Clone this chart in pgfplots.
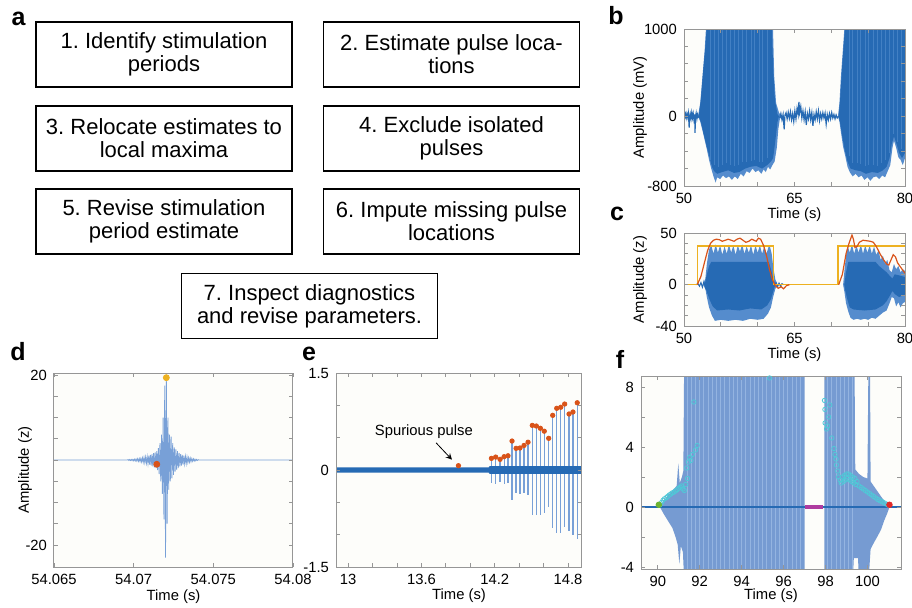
\documentclass[border=0pt]{standalone}
\usepackage{fontspec}
\setmainfont{Liberation Sans}
\setsansfont{Liberation Sans}
\usepackage{pgfplots}
\pgfplotsset{compat=1.18}
\frenchspacing

\definecolor{framec}{RGB}{150,150,150}
\definecolor{bgc}{RGB}{253,253,250}
\definecolor{mblue}{RGB}{38,106,180}
\definecolor{lblue}{RGB}{85,140,205}
\definecolor{stblue}{RGB}{66,128,196}
\definecolor{sblue}{RGB}{120,160,215}
\definecolor{fblue}{RGB}{118,155,210}
\definecolor{flight}{RGB}{148,180,225}
\definecolor{morange}{RGB}{237,177,32}
\definecolor{mred}{RGB}{217,83,25}
\definecolor{fred}{RGB}{225,40,40}
\definecolor{mpurple}{RGB}{175,60,160}
\definecolor{mcyan}{RGB}{80,200,215}
\definecolor{mgreen}{RGB}{110,180,50}

\pgfplotsset{
  panel/.style={
    scale only axis, axis on top, clip=true,
    axis background/.style={fill=bgc},
    axis line style={framec, line width=0.5pt},
    every tick/.style={framec, line width=0.4pt},
    major tick length=2pt, tick align=inside,
    ticklabel style={font=\fontsize{7.4}{8}\selectfont, text=black},
    label style={font=\fontsize{7.4}{8}\selectfont},
    xlabel={Time (s)},
  },
  xlab/.style={xlabel style={at={(axis description cs:0.5,#1)}, anchor=center}},
  ylab/.style={ylabel style={at={(axis description cs:#1,0.5)}, anchor=center}},
}
\tikzset{
  lett/.style={font=\fontsize{12.5}{14}\selectfont\bfseries},
  stepbox/.style={draw=black, line width=0.8pt, minimum width=128pt,
    minimum height=32.5pt, align=center, inner sep=0pt,
    font=\fontsize{11}{11.5}\selectfont},
}

\begin{document}
\begin{tikzpicture}
\useasboundingbox (0,0) rectangle (456pt,303.5pt);

% ---- panel a: workflow boxes
\node[lett] at (9.25pt,294pt) {a};
\node[stepbox] at (82pt,276.25pt) {1. Identify stimulation\\periods};
\node[stepbox] at (225.75pt,276.25pt) {2. Estimate pulse loca-\\tions};
\node[stepbox] at (82pt,234.25pt) {3. Relocate estimates to\\local maxima};
\node[stepbox] at (225.75pt,234.25pt) {4. Exclude isolated\\pulses};
\node[stepbox] at (82pt,192.75pt) {5. Revise stimulation\\period estimate};
\node[stepbox] at (225.75pt,192.75pt) {6. Impute missing pulse\\locations};
\node[stepbox] at (154.75pt,150.5pt) {7. Inspect diagnostics\\and revise parameters.};

% ---- panel b: raw recording
\node[lett] at (308pt,295.5pt) {b};
\begin{axis}[panel, at={(342pt,210.5pt)}, anchor=south west,
  width=110.5pt, height=78.5pt,
  xmin=50, xmax=80, ymin=-800, ymax=1000,
  xtick={50,55,...,80}, xticklabels={50,,,65,,,80},
  ytick={-800,-600,...,1000}, yticklabels={-800,,,,0,,,,,1000},
  ylabel={Amplitude (mV)}, xlab=-0.185, ylab=-0.199]
% burst 1
\addplot[fill=lblue, draw=none] coordinates {(51.9,0)(52.2,150)(52.5,450)(52.8,750)(53.05,1100)(62.05,1100)(62.25,450)(62.5,150)(62.9,40)(63.2,0)(63.0,-40)(62.8,-150)(62.6,-360)(62.3,-520)(62.0,-560)(61.7,-610)(61.4,-580)(61.1,-640)(60.8,-610)(60.5,-660)(60.1,-620)(59.7,-640)(59.3,-600)(58.9,-650)(58.5,-630)(58.1,-690)(57.7,-660)(57.3,-720)(56.9,-690)(56.5,-730)(56.1,-690)(55.7,-710)(55.3,-680)(54.9,-720)(54.5,-700)(54.3,-760)(54.0,-690)(53.7,-600)(53.4,-500)(53.1,-380)(52.8,-270)(52.5,-160)(52.2,-60)} --cycle;
\addplot[fill=mblue, draw=none] coordinates {(52.0,0)(52.3,200)(52.6,520)(52.9,800)(53.15,1100)(61.9,1100)(62.1,560)(62.35,180)(62.7,20)(62.9,0)(62.7,-60)(62.4,-280)(62.1,-480)(61.8,-520)(61.3,-560)(60.6,-600)(59.8,-570)(59.0,-580)(58.3,-600)(57.5,-640)(56.8,-650)(56.0,-620)(55.2,-640)(54.5,-660)(54.1,-630)(53.8,-580)(53.4,-450)(53.0,-320)(52.6,-180)(52.3,-70)} --cycle;
% burst 2
\addplot[fill=lblue, draw=none] coordinates {(70.9,0)(71.1,150)(71.3,450)(71.6,800)(71.85,1100)(81,1100)(81,-500)(80,-480)(79.7,-560)(79.4,-500)(79.1,-470)(78.8,-360)(78.5,-280)(78.3,-360)(78.0,-560)(77.7,-620)(77.3,-700)(76.9,-680)(76.5,-720)(76.1,-690)(75.7,-700)(75.3,-740)(74.9,-700)(74.5,-730)(74.1,-680)(73.7,-700)(73.3,-660)(72.9,-690)(72.5,-640)(72.2,-580)(71.9,-460)(71.6,-350)(71.3,-180)(71.1,-60)} --cycle;
\addplot[fill=mblue, draw=none] coordinates {(71.0,0)(71.2,200)(71.45,550)(71.75,900)(71.95,1100)(81,1100)(81,-420)(80,-420)(79.6,-480)(79.2,-420)(78.9,-330)(78.5,-230)(78.2,-320)(77.9,-480)(77.5,-580)(77.0,-620)(76.3,-650)(75.5,-640)(74.7,-660)(74.0,-630)(73.3,-620)(72.6,-600)(72.2,-520)(71.8,-380)(71.5,-240)(71.2,-80)} --cycle;
% lighter streaks
\addplot[ycomb, stblue, line width=0.5pt] coordinates {(53.6,1100)(54.1,1100)(54.7,1100)(55.2,1100)(55.8,1100)(56.3,1100)(56.9,1100)(57.4,1100)(58.0,1100)(58.5,1100)(59.1,1100)(59.6,1100)(60.2,1100)(60.7,1100)(61.3,1100)(72.4,1100)(72.9,1100)(73.5,1100)(74.0,1100)(74.6,1100)(75.1,1100)(75.7,1100)(76.2,1100)(76.8,1100)(77.3,1100)(77.9,1100)(78.4,1100)(79.0,1100)(79.5,1100)};
\addplot[ycomb, stblue, line width=0.5pt] coordinates {(53.6,-500)(54.1,-560)(54.7,-580)(55.2,-560)(55.8,-540)(56.3,-560)(56.9,-570)(57.4,-560)(58.0,-530)(58.5,-520)(59.1,-510)(59.6,-500)(60.2,-520)(60.7,-520)(61.3,-480)(72.4,-460)(72.9,-540)(73.5,-540)(74.0,-550)(74.6,-570)(75.1,-560)(75.7,-560)(76.2,-570)(76.8,-540)(77.3,-500)(77.9,-420)(78.4,-200)(79.0,-300)(79.5,-380)};
% baseline noise
\addplot[mblue, line width=0.6pt] coordinates {(50,10)(50.1,-15)(50.2,25)(50.3,-20)(50.4,30)(50.5,-10)(50.6,35)(50.7,-130)(50.75,-20)(50.85,25)(50.95,-30)(51.05,40)(51.15,-20)(51.25,30)(51.35,-40)(51.45,20)(51.5,-190)(51.55,-10)(51.65,35)(51.75,-30)(51.85,20)(51.95,-10)(52.1,0)};
\addplot[mblue, line width=0.6pt] coordinates {(63.0,-20)(63.15,30)(63.3,-40)(63.45,20)(63.6,-150)(63.7,10)(63.85,40)(64.0,-30)(64.15,45)(64.3,-25)(64.45,50)(64.6,-40)(64.75,30)(64.9,-60)(65.05,60)(65.2,-30)(65.35,90)(65.5,20)(65.6,165)(65.7,40)(65.85,110)(66.0,-20)(66.15,60)(66.3,-40)(66.45,50)(66.6,-100)(66.75,30)(66.9,-30)(67.05,60)(67.2,-40)(67.35,40)(67.5,-110)(67.65,20)(67.8,-40)(67.95,50)(68.1,-30)(68.25,60)(68.4,-50)(68.55,30)(68.7,-30)(68.85,40)(69.0,-20)(69.15,35)(69.3,-90)(69.45,20)(69.6,-40)(69.75,30)(69.9,-30)(70.05,40)(70.2,-20)(70.35,20)(70.5,-30)(70.65,15)(70.8,-20)(71.0,0)};
\end{axis}

% ---- panel c: z-scored signal, envelope and stimulation periods
\node[lett] at (308.5pt,196.5pt) {c};
\begin{axis}[panel, at={(342pt,140.5pt)}, anchor=south west,
  width=110.5pt, height=46.5pt,
  xmin=50, xmax=80, ymin=-40, ymax=50,
  xtick={50,55,...,80}, xticklabels={50,,,65,,,80},
  ytick={-40,-30,...,50}, yticklabels={-40,,,,0,,,,,50},
  ylabel={Amplitude (z)}, xlab=-0.312, ylab=-0.199]
\addplot[fill=lblue, draw=none] coordinates {(52.6,0)(52.9,6)(53.1,20)(53.4,34)(53.7,38)(54.0,30)(54.3,39)(54.6,31)(54.9,38)(55.2,29)(55.5,37)(55.8,30)(56.1,39)(56.4,31)(56.7,38)(57.0,29)(57.3,38)(57.6,32)(57.9,39)(58.2,30)(58.5,37)(58.8,31)(59.1,38)(59.4,29)(59.7,38)(60.0,31)(60.3,38)(60.6,30)(60.9,37)(61.2,30)(61.5,37)(61.7,36)(61.9,30)(62.1,18)(62.4,5)(62.7,0)(62.4,-4)(62.1,-12)(61.8,-22)(61.4,-28)(60.8,-33)(60.0,-34)(59.0,-33)(58.0,-35)(57.0,-34)(56.0,-35)(55.0,-34)(54.2,-35)(53.8,-30)(53.4,-22)(53.1,-12)(52.9,-4)} --cycle;
\addplot[fill=mblue, draw=none] coordinates {(52.8,0)(53.1,10)(53.4,18)(53.7,22)(61.5,22)(61.8,15)(62.1,6)(62.4,0)(62.1,-7)(61.8,-14)(61.3,-20)(60.5,-24)(59.0,-23)(57.5,-25)(56.0,-24)(54.5,-25)(53.9,-21)(53.5,-15)(53.1,-7)} --cycle;
\addplot[fill=lblue, draw=none] coordinates {(71.6,0)(71.8,15)(72.0,28)(72.2,38)(72.5,31)(72.8,39)(73.1,30)(73.4,38)(73.7,31)(74.0,39)(74.3,30)(74.6,38)(74.9,31)(75.2,38)(75.5,30)(75.8,37)(76.1,29)(76.4,33)(76.7,24)(77.0,28)(77.3,20)(77.6,24)(77.9,14)(78.2,12)(78.5,20)(78.8,15)(79.1,18)(79.4,12)(79.7,15)(80.2,12)(80.2,-16)(79.7,-18)(79.4,-22)(79.1,-17)(78.8,-21)(78.5,-13)(78.2,-12)(77.9,-18)(77.5,-25)(77.0,-27)(76.5,-30)(76.0,-33)(75.5,-32)(75.0,-34)(74.5,-33)(74.0,-34)(73.5,-33)(73.0,-34)(72.6,-32)(72.3,-26)(72.0,-18)(71.8,-8)} --cycle;
\addplot[fill=mblue, draw=none] coordinates {(71.75,0)(72.0,12)(72.3,22)(76.0,22)(76.5,18)(77.0,15)(77.5,12)(78.0,8)(78.3,6)(78.6,10)(79.2,9)(80.2,7)(80.2,-9)(79.2,-12)(78.6,-9)(78.3,-6)(78.0,-10)(77.5,-16)(77.0,-20)(76.0,-24)(74.5,-25)(73.0,-24)(72.5,-22)(72.2,-15)(71.9,-6)} --cycle;
\addplot[mblue, line width=0.5pt] coordinates {(51.6,0)(51.9,1)(52.1,-1.5)(52.3,2)(52.5,-2.5)(52.7,3)(52.9,-3)(53.0,0)};
\addplot[mblue, line width=0.5pt] coordinates {(62.3,0)(62.5,2)(62.7,-2)(62.9,1.5)(63.1,-1.5)(63.3,1)(63.5,0)};
\addplot[morange, line width=0.6pt] coordinates {(50,0)(51.8,0)(51.8,37.5)(62.1,37.5)(62.1,0)(70.9,0)(70.9,37.5)(80,37.5)};
\addplot[mred, line width=0.6pt] coordinates {(51.8,0)(52.3,8)(52.8,22)(53.2,33)(53.6,40)(54.0,43)(54.4,44)(54.8,43.5)(55.2,42)(55.6,43)(56.0,44)(56.4,43)(56.8,42)(57.2,44)(57.6,45)(58.0,43)(58.4,41)(58.8,42)(59.2,44)(59.5,43)(59.8,42)(60.1,45)(60.4,44)(60.8,38)(61.2,28)(61.6,15)(62.0,5)(62.4,-1)(62.8,-3.5)(63.2,-2)(63.5,-4)(63.9,-1)(64.3,0)};
\addplot[mred, line width=0.6pt] coordinates {(71.0,0)(71.5,10)(72.0,30)(72.4,40)(72.8,48)(73.0,44)(73.2,36)(73.5,37)(73.8,41)(74.3,43)(74.8,42.5)(75.3,42)(75.7,41)(76.1,37)(76.6,30)(77.1,24)(77.5,20)(77.8,19)(78.1,24)(78.4,29)(78.7,27)(79.0,21)(79.5,16)(80,11)};
\end{axis}

% ---- panel d: one pulse (x = time after 54.065 s, in ms)
\node[lett] at (9pt,127.5pt) {d};
\begin{axis}[panel, at={(27pt,20pt)}, anchor=south west,
  width=119.5pt, height=97pt,
  xmin=0, xmax=15, ymin=-25.2, ymax=20.5,
  xtick={0,5,10,15}, xticklabels={54.065,54.07,54.075,54.08},
  ytick={-20,-15,...,20}, yticklabels={-20,,,,,,,,20},
  ylabel={Amplitude (z)}, xlab=-0.155, ylab=-0.121]
\addplot[sblue, line width=0.4pt] coordinates {(0,0)(4.6,0)(4.65,0.1)(4.7,-0.1)(4.75,0.12)(4.8,-0.12)(4.85,0.14)(4.9,-0.14)(4.95,0.16)(5.0,-0.18)(5.05,0.2)(5.10,-0.2)(5.15,0.25)(5.20,-0.25)(5.25,0.3)(5.30,-0.3)(5.35,0.35)(5.40,-0.35)(5.45,0.4)(5.50,-0.45)(5.55,0.5)(5.60,-0.55)(5.65,0.6)(5.70,-0.65)(5.75,0.7)(5.80,-0.75)(5.85,0.8)(5.90,-0.9)(5.95,1.0)(6.00,-1.1)(6.05,1.2)(6.10,-1.3)(6.15,1.4)(6.20,-1.5)(6.25,1.6)(6.30,-1.7)(6.35,1.8)(6.40,-1.9)(6.45,2.1)(6.50,-2.4)(6.55,2.8)(6.60,-3.3)(6.65,4.0)(6.70,-5.0)(6.75,6.0)(6.80,-8.0)(6.85,10.0)(6.90,-14.0)(6.95,17.5)(7.00,-23.0)(7.05,19.4)(7.10,-15.0)(7.15,10.0)(7.20,-7.0)(7.25,6.0)(7.30,-5.0)(7.35,5.5)(7.40,-4.3)(7.45,4.0)(7.50,-3.5)(7.55,3.0)(7.60,-2.7)(7.65,2.5)(7.70,-2.3)(7.75,2.1)(7.80,-1.9)(7.85,1.7)(7.90,-1.5)(7.95,1.4)(8.00,-1.3)(8.05,1.2)(8.10,-1.1)(8.15,1.0)(8.20,-0.9)(8.25,0.85)(8.30,-0.8)(8.35,0.7)(8.40,-0.6)(8.45,0.55)(8.50,-0.5)(8.55,0.45)(8.60,-0.4)(8.65,0.35)(8.70,-0.3)(8.75,0.27)(8.80,-0.24)(8.85,0.2)(8.90,-0.17)(8.95,0.14)(9.00,-0.1)(9.05,0.08)(9.1,0)(15,0)};
\addplot[only marks, mark=*, mark size=1.5pt, draw=mred, fill=mred] coordinates {(6.45,-1.0)};
\addplot[only marks, mark=*, mark size=1.5pt, draw=morange, fill=morange] coordinates {(7.05,19.4)};
\end{axis}

% ---- panel e: detected pulses
\node[lett] at (154.5pt,126.5pt) {e};
\begin{axis}[panel, at={(168pt,20pt)}, anchor=south west,
  width=123pt, height=97pt,
  xmin=12.9, xmax=14.915, ymin=-1.5, ymax=1.5,
  xtick={13,13.2,13.4,13.6,13.8,14,14.2,14.4,14.6,14.8},
  xticklabels={13,,,13.6,,,14.2,,,14.8},
  ytick={-1.5,-1,-0.5,0,0.5,1,1.5}, yticklabels={-1.5,,,0,,,1.5},
  xlab=-0.15]
\addplot[ycomb, sblue, line width=0.6pt] coordinates {(14.173,0.18)(14.208,0.20)(14.244,0.165)(14.277,0.206)(14.309,0.22)(14.342,0.448)(14.375,0.335)(14.407,0.34)(14.440,0.38)(14.473,0.43)(14.508,0.69)(14.541,0.68)(14.574,0.645)(14.606,0.60)(14.642,0.49)(14.675,0.845)(14.708,0.954)(14.741,0.97)(14.773,1.02)(14.809,0.866)(14.841,0.897)(14.876,1.04)};
\addplot[ycomb, sblue, line width=0.6pt] coordinates {(14.173,-0.20)(14.208,-0.22)(14.244,-0.18)(14.277,-0.21)(14.309,-0.20)(14.342,-0.46)(14.375,-0.36)(14.407,-0.37)(14.440,-0.35)(14.473,-0.38)(14.508,-0.70)(14.541,-0.70)(14.574,-0.69)(14.606,-0.66)(14.642,-0.57)(14.675,-0.90)(14.708,-0.97)(14.741,-0.97)(14.773,-0.88)(14.809,-0.95)(14.841,-1.00)(14.876,-1.06)};
\addplot[fill=mblue, draw=none] coordinates {(12.9,0.04)(14.15,0.04)(14.16,0.06)(14.915,0.06)(14.915,-0.06)(14.16,-0.06)(14.15,-0.04)(12.9,-0.04)} --cycle;
\addplot[only marks, mark=*, mark size=1.1pt, draw=mred, fill=mred] coordinates {(13.903,0.067)(14.173,0.18)(14.208,0.20)(14.244,0.165)(14.277,0.206)(14.309,0.22)(14.342,0.448)(14.375,0.335)(14.407,0.34)(14.440,0.38)(14.473,0.43)(14.508,0.69)(14.541,0.68)(14.574,0.645)(14.606,0.60)(14.642,0.49)(14.675,0.845)(14.708,0.954)(14.741,0.97)(14.773,1.02)(14.809,0.866)(14.841,0.897)(14.876,1.04)};
\node[font=\fontsize{7.4}{8}\selectfont] at (13.62,0.60) {Spurious pulse};
\draw[-stealth, line width=0.4pt] (13.72,0.42) -- (13.85,0.16);
\end{axis}

% ---- panel f: imputed pulses
\node[lett] at (310pt,124pt) {f};
\begin{axis}[panel, at={(320.5pt,19pt)}, anchor=south west,
  width=130pt, height=96.5pt,
  xmin=89.2, xmax=101.6, ymin=-4.13, ymax=8.73,
  xtick={90,92,...,100}, xticklabels={90,92,94,96,98,100},
  ytick={-4,-2,...,8}, yticklabels={-4,,0,,4,,8},
  xlab=-0.14]
\addplot[fill=fblue, draw=none] coordinates {(90.1,0)(90.3,0.45)(90.5,0.8)(90.7,1.1)(90.9,1.4)(90.98,2.9)(91.05,1.6)(91.15,2.0)(91.22,2.4)(91.26,10)(97.0,10)(97.0,-5)(91.26,-5)(91.2,-3.0)(91.1,-2.6)(91.03,-3.8)(90.95,-2.5)(90.85,-2.0)(90.7,-1.4)(90.5,-0.95)(90.3,-0.5)} --cycle;
\addplot[fill=fblue, draw=none] coordinates {(97.95,-5)(97.95,10)(99.38,10)(99.42,2.5)(99.6,2.2)(99.8,2.0)(100.0,1.9)(100.05,10)(100.12,10)(100.15,1.7)(100.3,1.4)(100.5,1.0)(100.7,0.6)(100.9,0.25)(101.05,0)(100.95,-0.4)(100.8,-0.9)(100.65,-1.5)(100.5,-1.9)(100.3,-2.4)(100.15,-2.8)(100.05,-5)(99.6,-5)(99.55,-3.4)(99.35,-3.4)(99.3,-5)} --cycle;
\addplot[ycomb, flight, line width=0.45pt] coordinates {(91.4,10)(91.6,10)(91.8,10)(92.0,10)(92.2,10)(92.4,10)(92.6,10)(92.8,10)(93.0,10)(93.2,10)(93.4,10)(93.6,10)(93.8,10)(94.0,10)(94.2,10)(94.4,10)(94.6,10)(94.8,10)(95.0,10)(95.2,10)(95.4,10)(95.6,10)(95.8,10)(96.0,10)(96.2,10)(96.4,10)(96.6,10)(96.8,10)(98.1,10)(98.3,10)(98.5,10)(98.7,10)(98.9,10)(99.1,10)(99.3,10)};
\addplot[ycomb, flight, line width=0.45pt] coordinates {(91.4,-5)(91.6,-5)(91.8,-5)(92.0,-5)(92.2,-5)(92.4,-5)(92.6,-5)(92.8,-5)(93.0,-5)(93.2,-5)(93.4,-5)(93.6,-5)(93.8,-5)(94.0,-5)(94.2,-5)(94.4,-5)(94.6,-5)(94.8,-5)(95.0,-5)(95.2,-5)(95.4,-5)(95.6,-5)(95.8,-5)(96.0,-5)(96.2,-5)(96.4,-5)(96.6,-5)(96.8,-5)(98.1,-5)(98.3,-5)(98.5,-5)(98.7,-5)(98.9,-5)(99.1,-5)(99.3,-5)};
\addplot[mblue, line width=1pt] coordinates {(89.2,0)(101.6,0)};
\addplot[mpurple, line width=2pt] coordinates {(97.0,0)(97.9,0)};
\addplot[only marks, mark=o, mark size=1.1pt, mcyan, mark options={line width=0.4pt}] coordinates {(90.1,0.15)(90.18,0.3)(90.25,0.45)(90.32,0.55)(90.4,0.62)(90.47,0.7)(90.55,0.8)(90.62,0.87)(90.7,0.95)(90.78,1.0)(90.85,1.08)(90.92,1.15)(91.0,1.25)(91.07,1.32)(91.13,1.4)(91.2,1.2)(91.27,1.1)(91.33,1.5)(91.38,2.6)(91.42,1.9)(91.46,3.0)(91.52,3.3)(91.58,3.1)(91.65,3.5)(91.72,7.0)(91.8,3.8)(91.88,4.1)(95.33,8.6)(97.95,7.1)(97.97,6.5)(97.98,5.6)(98.05,5.2)(98.1,5.4)(98.15,6.0)(98.2,6.8)(98.3,4.6)(98.4,3.9)(98.45,3.5)(98.5,3.2)(98.52,2.8)(98.58,2.4)(98.62,2.0)(98.7,1.8)(98.75,1.6)(98.8,2.0)(98.85,1.7)(98.9,2.1)(98.95,1.8)(99.0,2.2)(99.05,1.9)(99.1,2.2)(99.15,1.8)(99.2,2.1)(99.25,1.7)(99.3,2.0)(99.35,1.6)(99.4,1.9)(99.45,1.5)(99.5,1.7)(99.6,1.4)(99.7,1.3)(99.8,1.2)(99.9,1.1)(100.0,1.0)(100.1,0.9)(100.2,0.8)(100.3,0.7)(100.4,0.6)(100.5,0.5)(100.6,0.42)(100.7,0.35)(100.8,0.28)(100.9,0.2)(101.0,0.12)};
\addplot[only marks, mark=*, mark size=1.4pt, draw=mgreen, fill=mgreen] coordinates {(90.05,0.15)};
\addplot[only marks, mark=*, mark size=1.4pt, draw=fred, fill=fred] coordinates {(101.05,0.15)};
\end{axis}
\end{tikzpicture}
\end{document}
